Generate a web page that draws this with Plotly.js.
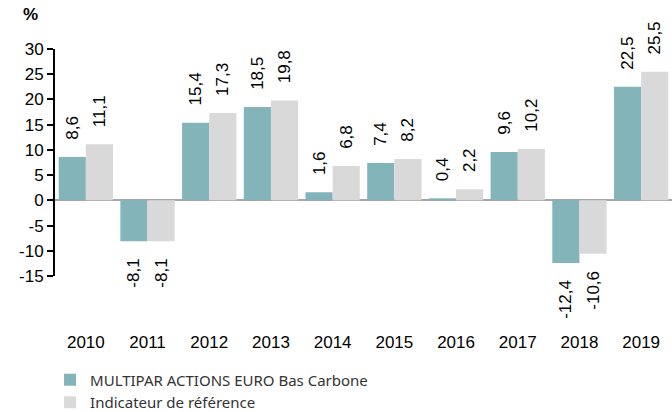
<!DOCTYPE html>
<html>
<head>
<meta charset="utf-8">
<script src="https://cdn.plot.ly/plotly-3.0.1.min.js"></script>
<style>html,body{margin:0;padding:0;background:#fff;}#chart{width:672px;height:412px;}</style>
</head>
<body>
<div id="chart"></div>
<script>
const years = ['2010','2011','2012','2013','2014','2015','2016','2017','2018','2019'];
const fundValues = [8.6, -8.1, 15.4, 18.5, 1.6, 7.4, 0.4, 9.6, -12.4, 22.5];
const benchValues = [11.1, -8.1, 17.3, 19.8, 6.8, 8.2, 2.2, 10.2, -10.6, 25.5];
const fundName = 'MULTIPAR ACTIONS EURO Bas Carbone';
const benchName = 'Indicateur de référence';
const yTicks = [-15, -10, -5, 0, 5, 10, 15, 20, 25, 30];

const pad = '\u00a0\u00a0\u00a0';
const fmt = v => {
  const s = v.toFixed(1).replace('.', ',');
  return v >= 0 ? pad + s : s + pad;
};
const barFont = {family: 'Liberation Sans', size: 17, color: '#000'};
const tickFont = {family: 'Liberation Sans', size: 17, color: '#000'};

const traces = [
  {type: 'bar', name: fundName, x: years, y: fundValues, text: fundValues.map(fmt),
   textposition: 'outside', textangle: -90, textfont: barFont, cliponaxis: false,
   constraintext: 'none', marker: {color: '#82b4ba'}, hoverinfo: 'none'},
  {type: 'bar', name: benchName, x: years, y: benchValues, text: benchValues.map(fmt),
   textposition: 'outside', textangle: -90, textfont: barFont, cliponaxis: false,
   constraintext: 'none', marker: {color: '#d9d9d9'}, hoverinfo: 'none'}
];

const layout = {
  width: 672, height: 412,
  margin: {l: 55, r: 0, t: 49, b: 136, autoexpand: false},
  paper_bgcolor: '#fff', plot_bgcolor: '#fff',
  barmode: 'group', bargap: 0.12, bargroupgap: 0,
  showlegend: true,
  legend: {orientation: 'v', x: -0.008, xanchor: 'left', y: -0.386, yanchor: 'top',
           font: {family: 'Noto Sans', size: 15, color: '#333'},
           tracegroupgap: 0},
  xaxis: {type: 'category', showline: false, ticks: '', showgrid: false,
          tickfont: tickFont, ticklabelstandoff: 54},
  yaxis: {range: [-15, 30], tickvals: yTicks, ticktext: yTicks.map(String),
          showline: true, linecolor: '#000', linewidth: 2, ticks: 'outside', ticklen: 6,
          tickcolor: '#000', tickwidth: 2, showgrid: false,
          zeroline: true, zerolinecolor: '#a6a6a6', zerolinewidth: 2,
          tickfont: tickFont},
  annotations: [{text: '<b>%</b>', xref: 'paper', yref: 'paper', x: -0.025, y: 1.1,
                 xanchor: 'right', yanchor: 'bottom', showarrow: false,
                 font: {family: 'Liberation Sans', size: 17, color: '#000'}}]
};

Plotly.newPlot('chart', traces, layout, {displayModeBar: false, staticPlot: true});
</script>
</body>
</html>
